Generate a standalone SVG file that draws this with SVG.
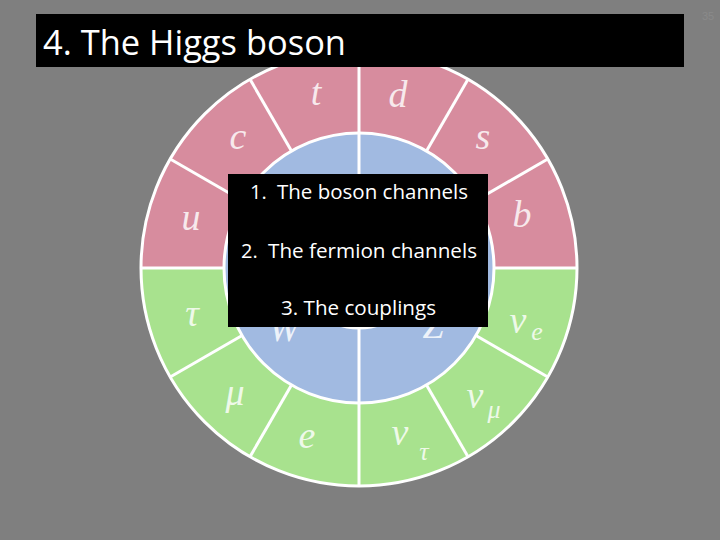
<svg xmlns="http://www.w3.org/2000/svg" width="720" height="540" viewBox="0 0 720 540">
<style>
.sym{font-family:"Liberation Serif","DejaVu Serif",serif;font-style:italic;font-size:38px;fill:#ffffff;fill-opacity:0.82;text-anchor:middle}
.sub{font-size:26px}
.wl{stroke:#ffffff;stroke-width:3;fill:none}
.box{fill:#000000}
.bt{font-family:"Open Sans","Noto Sans",sans-serif;fill:#ffffff}
</style>
<rect x="0" y="0" width="720" height="540" fill="#7f7f7f"/>
<text x="708" y="20" font-family="Liberation Sans, sans-serif" font-size="11" fill="#8a8a8a" text-anchor="middle">35</text>
<g id="wheel">
<path d="M141,268 A218,218 0 0 1 577,268 Z" fill="#d78c9e"/>
<path d="M141,268 A218,218 0 0 0 577,268 Z" fill="#a8e28e"/>
<circle cx="359" cy="268" r="135" fill="#a1bae1"/>
<circle cx="359" cy="268" r="60" fill="#5f5b59"/>
<circle class="wl" cx="359" cy="268" r="218"/>
<circle class="wl" cx="359" cy="268" r="135"/>
<circle class="wl" cx="359" cy="268" r="60"/>
</g>
<g id="connectors" class="wl">
<line x1="494" y1="268" x2="577" y2="268"/>
<line x1="224" y1="268" x2="141" y2="268"/>
<line x1="359" y1="50" x2="359" y2="208"/>
<line x1="359" y1="328" x2="359" y2="486"/>
<line x1="475.9" y1="200.5" x2="547.8" y2="159"/>
<line x1="426.5" y1="151.1" x2="468" y2="79.2"/>
<line x1="291.5" y1="151.1" x2="250" y2="79.2"/>
<line x1="242.1" y1="200.5" x2="170.2" y2="159"/>
<line x1="242.1" y1="335.5" x2="170.2" y2="377"/>
<line x1="291.5" y1="384.9" x2="250" y2="456.8"/>
<line x1="426.5" y1="384.9" x2="468" y2="456.8"/>
<line x1="475.9" y1="335.5" x2="547.8" y2="377"/>
</g>
<g id="fermions">
<text class="sym" x="316" y="105">t</text>
<text class="sym" x="398" y="107">d</text>
<text class="sym" x="238" y="149">c</text>
<text class="sym" x="483" y="149">s</text>
<text class="sym" x="191" y="230">u</text>
<text class="sym" x="522" y="227">b</text>
<text class="sym" x="192" y="326">τ</text>
<text class="sym" x="235" y="405">μ</text>
<text class="sym" x="307" y="448">e</text>
<text class="sym" x="400" y="445">ν</text><text class="sym sub" x="424" y="460">τ</text>
<text class="sym" x="475" y="408">ν</text><text class="sym sub" x="494" y="418">μ</text>
<text class="sym" x="518" y="333">ν</text><text class="sym sub" x="537" y="340">e</text>
</g>
<g id="bosons">
<text class="sym" x="284" y="341">W</text>
<text class="sym" x="433" y="338">Z</text>
</g>
<g id="title">
<rect class="box" x="36" y="14" width="648" height="53"/>
<text class="bt" x="43" y="55" font-size="34" textLength="303" lengthAdjust="spacingAndGlyphs">4. The Higgs boson</text>
</g>
<g id="menu">
<rect class="box" x="228" y="174" width="260" height="153"/>
<text class="bt" x="250" y="199" font-size="20">1.</text>
<text class="bt" x="277" y="199" font-size="20" textLength="191" lengthAdjust="spacingAndGlyphs">The boson channels</text>
<text class="bt" x="241" y="258" font-size="20">2.</text>
<text class="bt" x="268" y="258" font-size="20" textLength="209" lengthAdjust="spacingAndGlyphs">The fermion channels</text>
<text class="bt" x="281" y="315" font-size="20" textLength="155" lengthAdjust="spacingAndGlyphs">3. The couplings</text>
</g>
</svg>
